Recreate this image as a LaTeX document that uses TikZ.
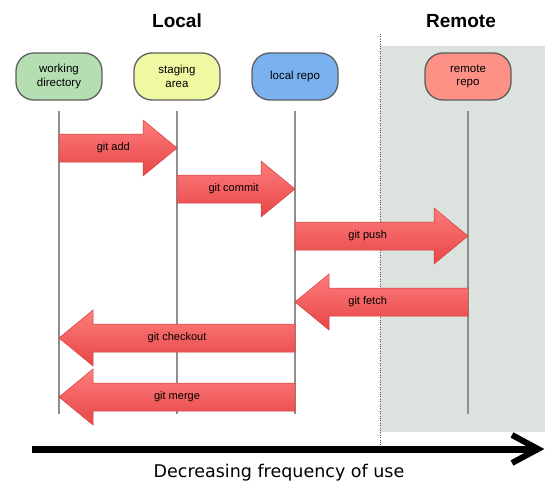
\documentclass[tikz,border=0pt]{standalone}
\usepackage{fontspec}
\setmainfont{Liberation Sans}
\newfontfamily\captionfont{DejaVu Sans}
\usetikzlibrary{positioning, calc}
\definecolor{wdgreen}{HTML}{B5DEB2}
\definecolor{stageyellow}{HTML}{F0F8A2}
\definecolor{repoblue}{HTML}{7AB2F0}
\definecolor{originred}{HTML}{FD9185}
\definecolor{remotebg}{HTML}{DCE2DE}
\definecolor{repoline}{HTML}{5E5E5E}
\definecolor{lifegray}{HTML}{8E8E8E}
\definecolor{arrowtop}{HTML}{FF7C7C}
\definecolor{arrowbottom}{HTML}{E64646}
\definecolor{arrowline}{HTML}{D23C3C}
\tikzset{
x=1pt, y=-1pt, % pixel-like units, y going down
node distance=30.7pt, % gap between the local repos
repo/.style={draw=repoline, line width=1.3pt, rounded corners=18pt, minimum width=86pt, minimum height=47pt, align=center, inner sep=2pt, font=\fontsize{11.5}{13.5}\selectfont},
title/.style={font=\fontsize{19}{22}\selectfont\bfseries},
lifeline/.style={draw=lifegray, line width=1.4pt},
gitarrow/.style={draw=arrowline, line width=0.5pt, top color=arrowtop, bottom color=arrowbottom},
arrowlabel/.style={font=\fontsize{11}{13}\selectfont},
}
% #1 name, #2 from, #3 to, #4 height, #5 direction (1 right, -1 left), #6 label pos, #7 label
\newcommand{\gitstep}[7]{
  \coordinate (#1-from) at (#2 |- 0,#4);
  \coordinate (#1-to) at (#3 |- 0,#4);
  \draw[gitarrow] ($(#1-from)+(0,-14)$) -- ($(#1-to)+({-34*#5},-14)$) -- ($(#1-to)+({-34*#5},-28)$)
    -- (#1-to) -- ($(#1-to)+({-34*#5},28)$) -- ($(#1-to)+({-34*#5},14)$) -- ($(#1-from)+(0,14)$) -- cycle;
  \node[arrowlabel] (#1-label) at ($(#1-from)!#6!(#1-to)$) {#7};
}

\begin{document}
\begin{tikzpicture}
    \useasboundingbox (0,0) rectangle (556,500);

    % remote side
    \fill[remotebg] (380,46) rectangle (545,432);
    \draw[dotted, black!70] (380,34) -- (380,445);

    \node[title] (localtitle) at (177,21) {Local};
    \node[title] (remotetitle) at (461,21) {Remote};

    \node[repo, fill=wdgreen] (wd) at (59,76.5) {working\\directory};
    \node[repo, fill=stageyellow, right=of wd] (stage) {staging\\area};
    \node[repo, fill=repoblue, right=of stage] (repo) {local repo};
    \node[repo, fill=originred, right=85.7pt of repo] (origin) {remote\\repo};

    \foreach \r in {wd, stage, repo, origin}
        \draw[lifeline] ([yshift=-10pt]\r.south) -- (\r |- 0,414);

    \gitstep{add}{wd}{stage}{148}{1}{0.46}{git add}
    \gitstep{commit}{stage}{repo}{189}{1}{0.48}{git commit}
    \gitstep{push}{repo}{origin}{236}{1}{0.42}{git push}
    \gitstep{fetch}{origin}{repo}{302}{-1}{0.58}{git fetch}
    \gitstep{checkout}{repo}{wd}{338}{-1}{0.5}{git checkout}
    \gitstep{merge}{repo}{wd}{397}{-1}{0.5}{git merge}

    % frequency axis
    \coordinate (freq-start) at (32,449);
    \coordinate (freq-end) at (538,449);
    \draw[line width=7pt] (freq-start) -- (freq-end);
    \draw[line width=6pt, line join=miter] ($(freq-end)+(-26,-14)$) -- (freq-end) -- ($(freq-end)+(-26,14)$);
    \node[font=\captionfont\fontsize{17.5}{21}\selectfont] (freq) at (279,473) {Decreasing frequency of use};
\end{tikzpicture}
\end{document}
